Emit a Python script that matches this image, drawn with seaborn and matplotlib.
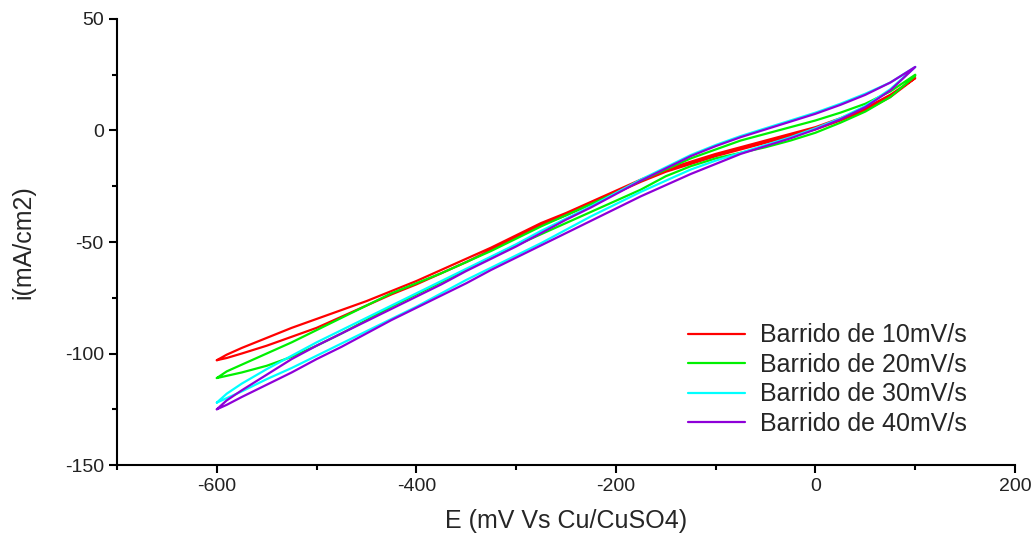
import numpy as np
import pandas as pd
import matplotlib
matplotlib.use("Agg")
import matplotlib.pyplot as plt
from matplotlib.ticker import MultipleLocator
import seaborn as sns

# Potential grid (mV vs Cu/CuSO4) shared by both branches of every sweep
potential = [-600, -590, -575, -550, -525, -500, -475, -450, -425, -400,
             -375, -350, -325, -300, -275, -250, -225, -200, -175, -150,
             -125, -100, -75, -50, -25, 0, 25, 50, 75, 100]

# Current density (mA/cm2): upper branch and lower branch of each loop
upper_10 = [-103, -100.5, -97.5, -93, -88.5, -84.5, -80.5, -76.5, -72, -67.5,
            -62.5, -57.5, -52.5, -47, -41.5, -37, -32, -27, -22, -17.5,
            -14, -10.5, -7.5, -4.5, -1.5, 1.5, 5.5, 10, 16, 23.5]
lower_10 = [-103, -102, -100, -96.5, -92.5, -88.5, -83.5, -78.5, -73.5, -69,
            -64, -59, -53.5, -48, -42.5, -38, -33, -28, -23, -18.5,
            -15, -11.5, -8.5, -5.5, -2.5, 0.5, 4.5, 9, 15, 23.5]

upper_20 = [-111, -108, -105, -100, -95, -89.5, -84, -78.5, -73, -68.5,
            -64, -59, -54, -48.5, -43, -38, -33, -28, -22.5, -17.5,
            -12.5, -8.5, -4.5, -1.5, 1.5, 4.5, 8, 12, 17.5, 25]
lower_20 = [-111, -110, -108.5, -105.5, -101.5, -96.5, -91, -85, -79, -73.5,
            -68, -62.5, -57, -51.5, -46.5, -41.5, -36.5, -31.5, -26.5, -20.5,
            -16, -12.5, -10, -7.5, -4.5, -1, 3.5, 8.5, 15, 24.5]

upper_30 = [-122, -118, -113.5, -107, -101, -95, -89.5, -84, -78.5, -73,
            -67.5, -62, -56.5, -51, -45, -39.5, -34, -28, -22, -16.5,
            -11, -6.5, -2.5, 1, 4.5, 8, 12, 16.5, 21.5, 28.5]
lower_30 = [-122, -120, -117, -111.5, -106.5, -101, -95.5, -90, -84.5, -79,
            -73, -67, -61.5, -56, -50.5, -44.5, -38.5, -33, -27.5, -22.5,
            -17.5, -13.5, -10, -6.5, -3, 1, 5.5, 11, 18.5, 28.5]

upper_40 = [-125, -121, -116.5, -109.5, -102.5, -96.5, -91, -85.5, -80, -74.5,
            -69, -63, -57.5, -52, -46, -40, -34.5, -28.5, -22.5, -17,
            -11.5, -7, -3, 0.5, 4, 7.5, 11.5, 16, 21.5, 28.5]
lower_40 = [-125, -123, -119.5, -114, -108.5, -102.5, -97, -91, -85, -79.5,
            -74, -68.5, -62.5, -57, -51.5, -46, -40.5, -35, -29.5, -24.5,
            -19.5, -15, -10.5, -7, -3.5, 0.5, 5, 10.5, 18, 28.5]

labels = ["Barrido de 10mV/s", "Barrido de 20mV/s",
          "Barrido de 30mV/s", "Barrido de 40mV/s"]
colors = ["#FF0000", "#00F000", "#00FFFF", "#8E00D8"]

branches = [(upper_10, lower_10), (upper_20, lower_20),
            (upper_30, lower_30), (upper_40, lower_40)]

# One closed loop per scan rate: out along the upper branch, back along the lower
rows = []
for label, (up, low) in zip(labels, branches):
    e_loop = list(potential) + list(potential[::-1])
    i_loop = list(up) + list(low[::-1])
    for k, (e, i) in enumerate(zip(e_loop, i_loop)):
        rows.append({"E": e, "i": i, "serie": label, "orden": k})
df = pd.DataFrame(rows)

sns.set_style("ticks")
plt.rcParams["font.family"] = ["Liberation Sans", "DejaVu Sans"]
plt.rcParams["axes.unicode_minus"] = False

fig = plt.figure(figsize=(10.33, 5.35), dpi=100)
ax = fig.add_axes([0.1133, 0.1308, 0.8693, 0.8337])

sns.lineplot(data=df, x="E", y="i", hue="serie", hue_order=labels,
             palette=colors, sort=False, estimator=None, linewidth=1.6,
             ax=ax)

ax.set_xlim(-700, 200)
ax.set_ylim(-150, 50)
ax.xaxis.set_major_locator(MultipleLocator(200))
ax.xaxis.set_minor_locator(MultipleLocator(100))
ax.yaxis.set_major_locator(MultipleLocator(50))
ax.yaxis.set_minor_locator(MultipleLocator(25))

for side in ["top", "right"]:
    ax.spines[side].set_visible(False)
for side in ["left", "bottom"]:
    ax.spines[side].set_linewidth(1.5)
    ax.spines[side].set_color("black")

ax.tick_params(which="major", direction="out", length=6, width=1.5,
               colors="black", labelsize=14, labelcolor="#222222")
ax.tick_params(which="minor", direction="out", length=3.5, width=1.5,
               colors="black")

ax.set_xlabel("E (mV Vs Cu/CuSO4)", fontsize=18, labelpad=10)
ax.set_ylabel("i(mA/cm2)", fontsize=18, labelpad=21)

leg = ax.legend(loc="upper left", bbox_to_anchor=(0.625, 0.34),
                frameon=False, fontsize=18, handlelength=2.28,
                handletextpad=0.6, labelspacing=0.22, borderaxespad=0)

fig.savefig("out.png", dpi=100)
